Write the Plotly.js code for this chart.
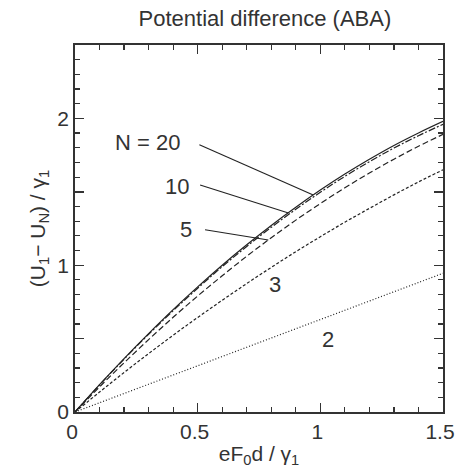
<!DOCTYPE html>
<html><head><meta charset="utf-8">
<script src="https://cdn.plot.ly/plotly-3.0.1.min.js"></script>
<style>html,body{margin:0;padding:0;background:#fff}#c{width:456px;height:472px}</style>
</head><body><div id="c"></div>
<script>
const xVals = [0,0.1,0.2,0.3,0.4,0.5,0.6,0.7,0.8,0.9,1.0,1.1,1.2,1.3,1.4,1.5];
const yN20 = [0,0.186,0.364,0.534,0.697,0.852,1.000,1.139,1.271,1.395,1.512,1.621,1.722,1.816,1.901,1.980];
const yN10 = [0,0.184,0.360,0.529,0.690,0.843,0.990,1.128,1.258,1.381,1.497,1.605,1.705,1.798,1.882,1.960];
const yN5  = [0,0.171,0.335,0.493,0.645,0.790,0.928,1.061,1.187,1.307,1.420,1.527,1.628,1.722,1.810,1.891];
const yN3  = [0,0.136,0.269,0.398,0.523,0.644,0.761,0.875,0.985,1.092,1.194,1.293,1.387,1.479,1.567,1.650];
const yN2  = [0,0.063,0.126,0.189,0.252,0.315,0.378,0.441,0.504,0.567,0.630,0.693,0.756,0.819,0.882,0.945];
const seriesNames = ['N = 20','10','5','3','2'];
const seriesY = [yN20, yN10, yN5, yN3, yN2];
const dashes = ['solid','7px,2px,2px,2px','6px,3px','3px,2px','1px,2px'];
// label positions (data coords)
const labelX = [0.2935, 0.417, 0.4525, 0.815, 1.033];
const labelY = [1.834, 1.536, 1.241, 0.866, 0.491];
// pointer lines: start and end points
const ptrX0 = [0.507, 0.510, 0.530];
const ptrY0 = [1.820, 1.547, 1.241];
const ptrX1 = [0.971, 0.870, 0.788];
const ptrY1 = [1.479, 1.355, 1.172];

const col = '#222';
const FONT = 'Liberation Sans, Arial, Helvetica, sans-serif';
const traces = seriesY.map((y,i)=>({
  x: xVals, y: y, type:'scatter', mode:'lines',
  line:{color:col, width:1.2, dash:dashes[i], shape:'spline'},
  name: seriesNames[i], showlegend:false, hoverinfo:'skip'
}));
const annotations = seriesNames.map((t,i)=>({
  x: labelX[i], y: labelY[i], xref:'x', yref:'y', text:t, showarrow:false,
  xanchor:'center', yanchor:'middle',
  font:{family:FONT, size:22, color:'#333'}
}));
const shapes = ptrX0.map((x0,i)=>({
  type:'line', xref:'x', yref:'y', x0:x0, y0:ptrY0[i], x1:ptrX1[i], y1:ptrY1[i],
  line:{color:col, width:1.1}
}));
const axisCommon = {
  showgrid:false, zeroline:false, showline:true, linecolor:'#333', linewidth:1.8,
  mirror:'ticks', ticks:'inside', ticklen:9, tickwidth:1.4, tickcolor:'#333',
  ticklabeloverflow:'allow',
  tickfont:{family:FONT, size:21, color:'#333'},
  minor:{dtick:0.1, ticks:'inside', ticklen:5, tickwidth:1.2, tickcolor:'#333'}
};
const layout = {
  width:456, height:472,
  margin:{l:75, r:13, t:45, b:60},
  paper_bgcolor:'#fff', plot_bgcolor:'#fff',
  title:{text:'Potential difference (ABA)', x:0.581, xanchor:'center', y:0.962, yanchor:'middle',
    font:{family:FONT, size:22, color:'#333'}},
  xaxis:Object.assign({}, axisCommon, {range:[0,1.5], tickvals:[0,0.5,1,1.5], ticktext:['0','0.5','1','1.5'],
    ticklabelshift:-3,
    title:{text:'eF<sub>0</sub>d / γ<sub>1</sub>', standoff:4, font:{family:FONT, size:21, color:'#333'}}}),
  yaxis:Object.assign({}, axisCommon, {range:[0,2.5], tickvals:[0,0.5,1,1.5,2], ticktext:['0','','1','','2'],
    title:{text:'(U<sub>1</sub>− U<sub>N</sub>) / γ<sub>1</sub>', standoff:6, font:{family:FONT, size:21, color:'#333'}}}),
  annotations: annotations, shapes: shapes
};
Plotly.newPlot('c', traces, layout, {staticPlot:true, displayModeBar:false});
</script></body></html>
